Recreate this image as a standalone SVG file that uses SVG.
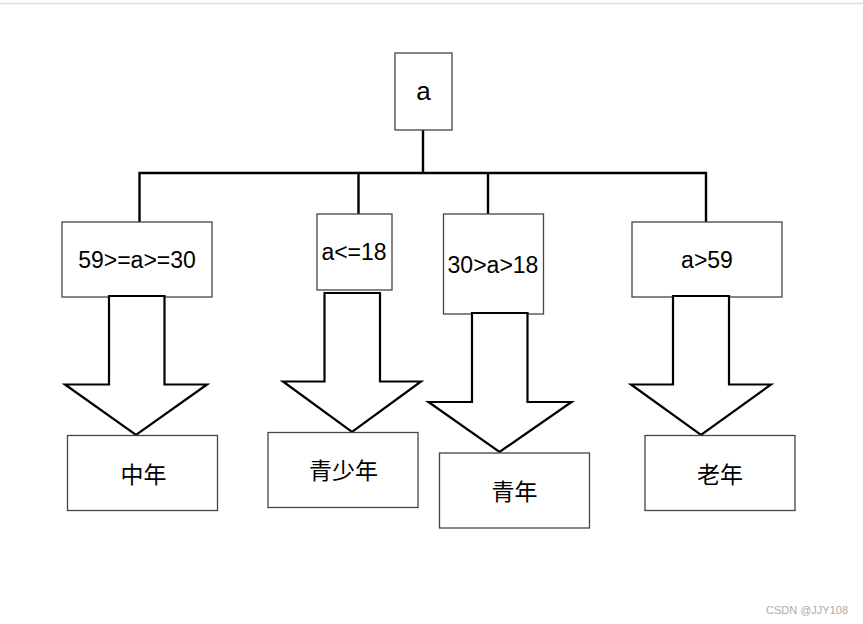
<svg xmlns="http://www.w3.org/2000/svg" width="863" height="624" viewBox="0 0 863 624">
<style>
.box{fill:#fff;stroke:#444;stroke-width:1.3}
.t{font-family:"Liberation Sans",Arial,sans-serif;font-size:23px;fill:#000;text-anchor:middle}
.c{font-family:"Noto Sans CJK SC","Liberation Sans",sans-serif;font-size:23px;fill:#000;text-anchor:middle}
.arr{fill:#fff;stroke:#000;stroke-width:2.2;stroke-linejoin:miter}
.ln{fill:none;stroke:#000;stroke-width:2.4}
</style>
<rect width="863" height="624" fill="#fff"/>
<line x1="0" y1="3.5" x2="863" y2="3.5" stroke="#ddd" stroke-width="1.5"/>
<g id="connectors">
<line class="ln" x1="423" y1="125" x2="423" y2="173"/>
<polyline class="ln" points="139.5,222 139.5,173 706,173 706,222"/>
<line class="ln" x1="358.5" y1="173" x2="358.5" y2="214"/>
<line class="ln" x1="488" y1="173" x2="488" y2="214"/>
</g>
<g id="node-a">
<rect class="box" x="395" y="53" width="57" height="77"/>
<text class="t" x="423.5" y="100" style="font-size:26px">a</text>
</g>
<g id="node-1">
<rect class="box" x="62" y="222" width="150" height="75"/>
<text class="t" x="137" y="268">59&gt;=a&gt;=30</text>
</g>
<g id="node-2">
<rect class="box" x="317" y="214" width="75" height="76"/>
<text class="t" x="354" y="260">a&lt;=18</text>
</g>
<g id="node-3">
<rect class="box" x="443.5" y="214" width="100" height="100"/>
<text class="t" x="493" y="273">30&gt;a&gt;18</text>
</g>
<g id="node-4">
<rect class="box" x="632" y="222" width="150" height="75"/>
<text class="t" x="707" y="268">a&gt;59</text>
</g>
<g id="arrow-1">
<polygon class="arr" points="109,296 164.5,296 164.5,384.5 207,384.5 136,435 65,384.5 109,384.5"/>
</g>
<g id="arrow-2">
<polygon class="arr" points="324.5,293 380,293 380,381.5 421,381.5 352,432 283,381.5 324.5,381.5"/>
</g>
<g id="arrow-3">
<polygon class="arr" points="472,313 527.5,313 527.5,402 571.5,402 499.5,452 428.5,402 472,402"/>
</g>
<g id="arrow-4">
<polygon class="arr" points="673,296 729,296 729,384.5 771,384.5 701,435 631,384.5 673,384.5"/>
</g>
<g id="node-zhongnian">
<rect class="box" x="67.5" y="435.5" width="150" height="75"/>
<text class="c" x="143.5" y="483">中年</text>
</g>
<g id="node-qingshaonian">
<rect class="box" x="268" y="432.5" width="150" height="75"/>
<text class="c" x="343.5" y="479">青少年</text>
</g>
<g id="node-qingnian">
<rect class="box" x="439.5" y="453" width="150" height="75"/>
<text class="c" x="514.5" y="500">青年</text>
</g>
<g id="node-laonian">
<rect class="box" x="645" y="435.5" width="150" height="75"/>
<text class="c" x="720" y="483">老年</text>
</g>
<text x="807" y="614" style="font-family:'Liberation Sans',Arial,sans-serif;font-size:11px;fill:#aaa;text-anchor:middle">CSDN @JJY108</text>
</svg>
